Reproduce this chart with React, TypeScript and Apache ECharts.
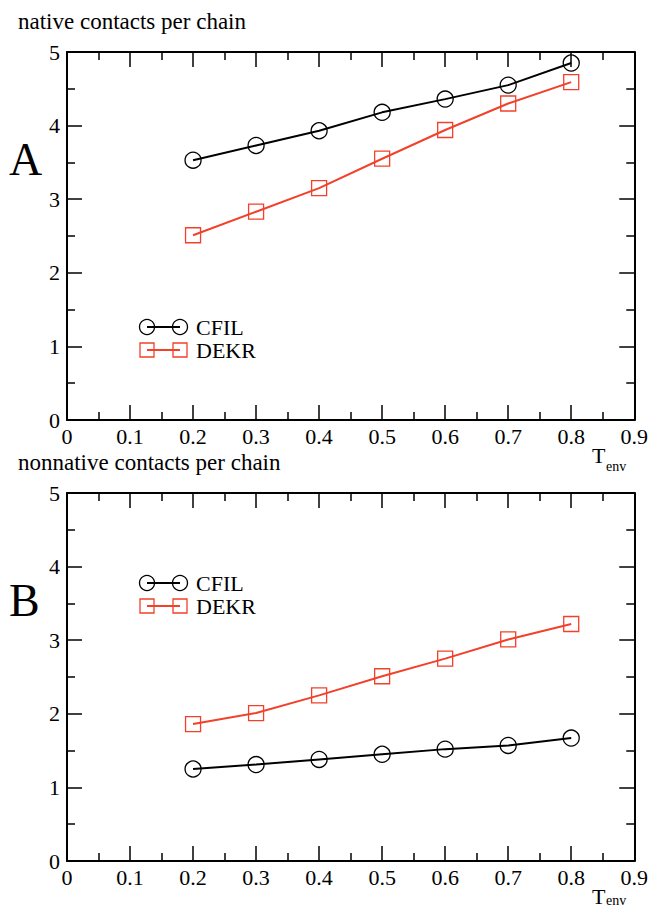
import React, { useEffect, useRef } from "react";
import * as echarts from "echarts";

const xValues = [0.2, 0.3, 0.4, 0.5, 0.6, 0.7, 0.8];
const nativeCFIL = [3.53, 3.73, 3.93, 4.18, 4.36, 4.55, 4.85];
const nativeDEKR = [2.51, 2.83, 3.15, 3.55, 3.94, 4.3, 4.59];
const nonnativeCFIL = [1.25, 1.31, 1.38, 1.45, 1.52, 1.57, 1.67];
const nonnativeDEKR = [1.86, 2.01, 2.25, 2.51, 2.75, 3.01, 3.22];
const seriesNames = ["CFIL", "DEKR"];
const panelTitles = ["native contacts per chain", "nonnative contacts per chain"];
const panelLetters = ["A", "B"];

const RED = "#f2402a";
const FONT = "Liberation Serif";

export default function App() {
  const ref = useRef<HTMLDivElement>(null);
  useEffect(() => {
    if (!ref.current) return;
    const chart = echarts.init(ref.current, undefined, { renderer: "svg" });
    const gridLeft = 67;
    const gridW = 570;
    const gridH = 368;
    const tops = [52, 493];

    const grids = tops.map((t) => ({ left: gridLeft, top: t, width: gridW, height: gridH }));
    const xAxes: any[] = [];
    const yAxes: any[] = [];
    tops.forEach((_, i) => {
      const base = {
        gridIndex: i,
        min: 0,
        splitLine: { show: false },
        axisLine: { show: true, onZero: false, lineStyle: { color: "#000", width: 2 } },
        axisTick: { show: true, inside: true, length: 15, lineStyle: { color: "#000", width: 1.5 } },
        minorTick: { show: true, splitNumber: 2, length: 8, lineStyle: { color: "#000", width: 1.5 } },
        minorSplitLine: { show: false },
      };
      xAxes.push({
        ...base,
        type: "value",
        max: 0.9,
        interval: 0.1,
        position: "bottom",
        axisLabel: {
          show: true,
          color: "#000",
          fontFamily: FONT,
          fontSize: 22,
          margin: 5,
          formatter: (v: number) => String(+v.toFixed(1)),
        },
      });
      xAxes.push({
        ...base,
        type: "value",
        max: 0.9,
        interval: 0.1,
        position: "top",
        axisLabel: { show: false },
      });
      yAxes.push({
        ...base,
        type: "value",
        max: 5,
        interval: 1,
        position: "left",
        axisLabel: { show: true, color: "#000", fontFamily: FONT, fontSize: 22, margin: 7 },
      });
      yAxes.push({
        ...base,
        type: "value",
        max: 5,
        interval: 1,
        position: "right",
        axisLabel: { show: false },
      });
    });

    const mk = (name: string, vals: number[], panel: number, red: boolean) => ({
      name,
      type: "line",
      xAxisIndex: panel * 2,
      yAxisIndex: panel * 2,
      data: xValues.map((x, k) => [x, vals[k]]),
      symbol: red ? "rect" : "circle",
      symbolSize: red ? 15 : 16,
      lineStyle: { color: red ? RED : "#000", width: 2 },
      itemStyle: { color: "transparent", borderColor: red ? RED : "#000", borderWidth: 1.3 },
      z: red ? 3 : 4,
    });

    const txt = (text: string, x: number, y: number, size: number) => ({
      type: "text",
      x,
      y,
      style: { text, font: `${size}px '${FONT}'`, fill: "#000", verticalAlign: "middle" },
    });

    const legendGraphic = (cy: number) => ({
      type: "group",
      children: [
        { type: "line", shape: { x1: 147, y1: cy, x2: 180, y2: cy }, style: { stroke: "#000", lineWidth: 2 } },
        { type: "circle", shape: { cx: 147, cy, r: 7.5 }, style: { fill: "none", stroke: "#000", lineWidth: 1.3 } },
        { type: "circle", shape: { cx: 180, cy, r: 7.5 }, style: { fill: "none", stroke: "#000", lineWidth: 1.3 } },
        txt(seriesNames[0], 196, cy, 22),
        { type: "line", shape: { x1: 147, y1: cy + 23, x2: 180, y2: cy + 23 }, style: { stroke: RED, lineWidth: 2 } },
        { type: "rect", shape: { x: 140, y: cy + 16, width: 14, height: 14 }, style: { fill: "none", stroke: RED, lineWidth: 1.3 } },
        { type: "rect", shape: { x: 173, y: cy + 16, width: 14, height: 14 }, style: { fill: "none", stroke: RED, lineWidth: 1.3 } },
        txt(seriesNames[1], 196, cy + 23, 22),
      ],
    });

    const graphics: any[] = [];
    tops.forEach((t, i) => {
      const off = t - tops[0];
      graphics.push(txt(panelTitles[i], 18, 21 + off, 23));
      graphics.push(txt(panelLetters[i], 9, 159 + off, 46));
      graphics.push(txt("T", 592, 455 + off, 22));
      graphics.push(txt("env", 606, 466 + Math.min(off, 434), 14));
    });
    graphics.push(legendGraphic(327), legendGraphic(583));

    chart.setOption({
      animation: false,
      backgroundColor: "#fff",
      grid: grids,
      xAxis: xAxes,
      yAxis: yAxes,
      series: [
        mk(seriesNames[0], nativeCFIL, 0, false),
        mk(seriesNames[1], nativeDEKR, 0, true),
        mk(seriesNames[0], nonnativeCFIL, 1, false),
        mk(seriesNames[1], nonnativeDEKR, 1, true),
      ],
      graphic: graphics,
    });
    return () => chart.dispose();
  }, []);
  return <div ref={ref} style={{ position: "fixed", left: 0, top: 0, width: 651, height: 909 }} />;
}
